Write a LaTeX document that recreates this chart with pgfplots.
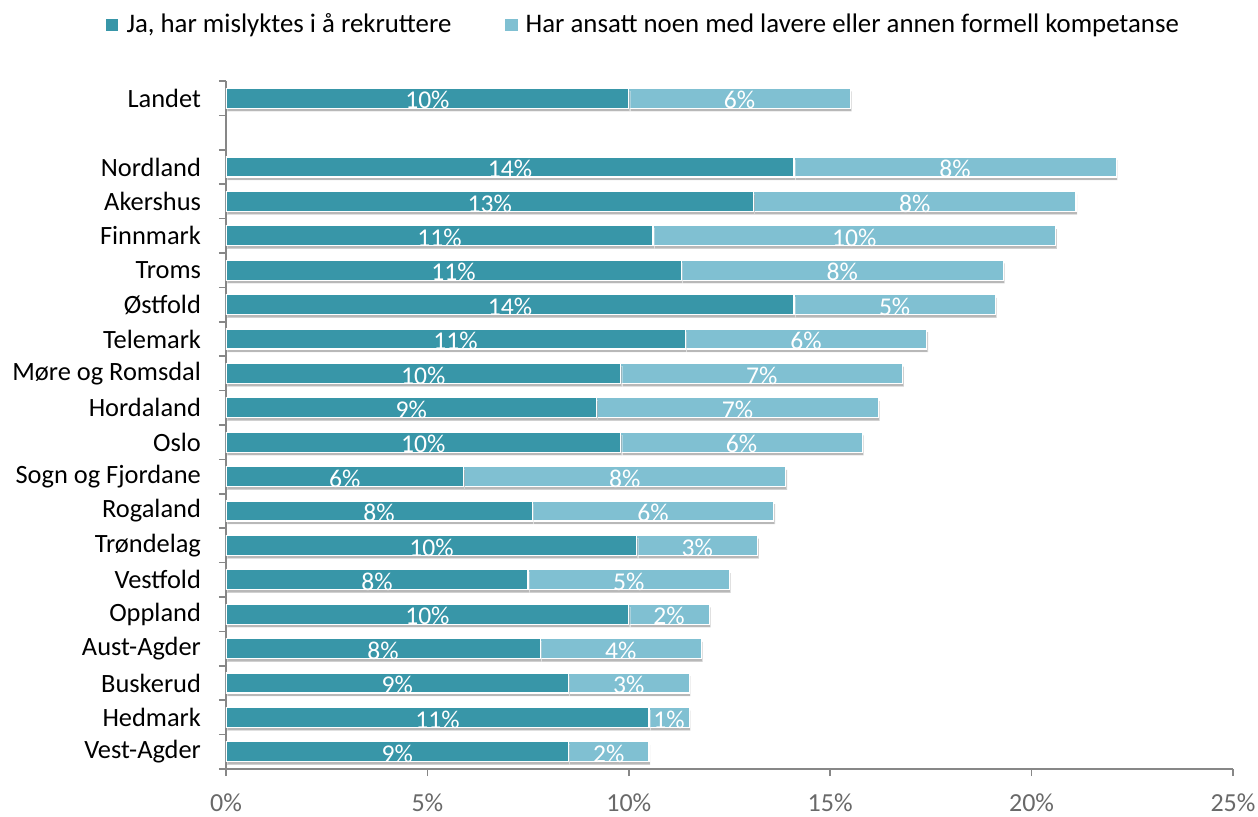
\documentclass[border=0pt]{standalone}
\usepackage{fontspec}
\setmainfont{Carlito}
\usepackage{pgfplots}
\usepackage{pgfplotstable}
\pgfplotsset{compat=1.18}
\usetikzlibrary{shadows}

\definecolor{dark}{RGB}{56,150,168}
\definecolor{light}{RGB}{128,192,210}
\definecolor{axgray}{RGB}{135,135,135}
\definecolor{labgray}{RGB}{105,105,105}

% y = row position (Landet on top, one empty row below it)
\pgfplotstableread{
y    a     b     la  lb
19   10.0  5.5   10  6
17   14.1  8.0   14  8
16   13.1  8.0   13  8
15   10.6  10.0  11  10
14   11.3  8.0   11  8
13   14.1  5.0   14  5
12   11.4  6.0   11  6
11   9.8   7.0   10  7
10   9.2   7.0   9   7
9    9.8   6.0   10  6
8    5.9   8.0   6   8
7    7.6   6.0   8   6
6    10.2  3.0   10  3
5    7.5   5.0   8   5
4    10.0  2.0   10  2
3    7.8   4.0   8   4
2    8.5   3.0   9   3
1    10.5  1.0   11  1
0    8.5   2.0   9   2
}\data

\pgfplotsset{
  base/.style={
    width=503.5pt, height=344pt, scale only axis,
    xmin=0, xmax=25, ymin=-0.5, ymax=19.5,
  },
  shad/.style={drop shadow={shadow xshift=0.6pt, shadow yshift=-1.6pt, opacity=0.35, fill=black!80}},
}

\begin{document}
\begin{tikzpicture}
\begin{axis}[
  base, name=ax,
  xbar stacked, bar width=0.58,
  axis lines=left, axis line style={-, axgray, line width=0.8pt},
  tick align=outside,
  tick style={axgray, line width=0.8pt},
  major tick length=3.5pt,
  xtick={0,5,10,15,20,25},
  xticklabel={\pgfmathprintnumber{\tick}\%},
  xticklabel style={labgray, font=\fontsize{13}{15}\selectfont, yshift=-5.5pt},
  /pgf/number format/assume math mode=true,
  ytick={-0.5,0.5,...,19.5}, yticklabels={},
  extra y ticks={0,1,2,3,4,5,6,7,8,9,10,11,12,13,14,15,16,17,19},
  extra y tick labels={Vest-Agder,Hedmark,Buskerud,Aust-Agder,Oppland,Vestfold,Trøndelag,Rogaland,Sogn og Fjordane,Oslo,Hordaland,Møre og Romsdal,Telemark,Østfold,Troms,Finnmark,Akershus,Nordland,Landet},
  extra y tick style={major tick length=0pt, yticklabel style={font=\fontsize{13.2}{15}\selectfont, black, xshift=-9pt}},
  legend style={at={(axis description cs:0.4156,1.0820)}, anchor=center, draw=none,
    font=\fontsize{13.4}{15}\selectfont, legend columns=2,
    /tikz/every even column/.append style={column sep=25pt}},
]
\addplot[fill=dark, draw=white, line width=0.6pt, shad, forget plot] table[x=a, y=y] \data;
\addplot[fill=light, draw=white, line width=0.6pt, shad, forget plot] table[x=b, y=y] \data;
\addlegendimage{legend image code/.code={\path[draw=none] (0pt,0pt) -- (8pt,0pt); \fill[dark] (0pt,-2.8pt) rectangle (5.6pt,2.8pt);}}
\addlegendentry{Ja, har mislyktes i å rekruttere}
\addlegendimage{legend image code/.code={\path[draw=none] (0pt,0pt) -- (8pt,0pt); \fill[light] (0pt,-2.8pt) rectangle (5.6pt,2.8pt);}}
\addlegendentry{Har ansatt noen med lavere eller annen formell kompetanse}
\end{axis}
\begin{axis}[base, hide axis, clip=false,
  every node near coord/.style={anchor=center, white, font=\fontsize{12.8}{14}\selectfont, yshift=-1pt}]
\addplot[only marks, mark=none, nodes near coords={\pgfplotspointmeta\%}, point meta=explicit symbolic]
  table[x expr=\thisrow{a}/2, y=y, meta=la] \data;
\addplot[only marks, mark=none, nodes near coords={\pgfplotspointmeta\%}, point meta=explicit symbolic]
  table[x expr=\thisrow{a}+\thisrow{b}/2, y=y, meta=lb] \data;
\end{axis}
\pgfresetboundingbox
\path[use as bounding box] ([shift={(-113pt,-23.5pt)}]ax.south west) rectangle ([shift={(516pt,384.5pt)}]ax.south west);
\end{tikzpicture}
\end{document}
